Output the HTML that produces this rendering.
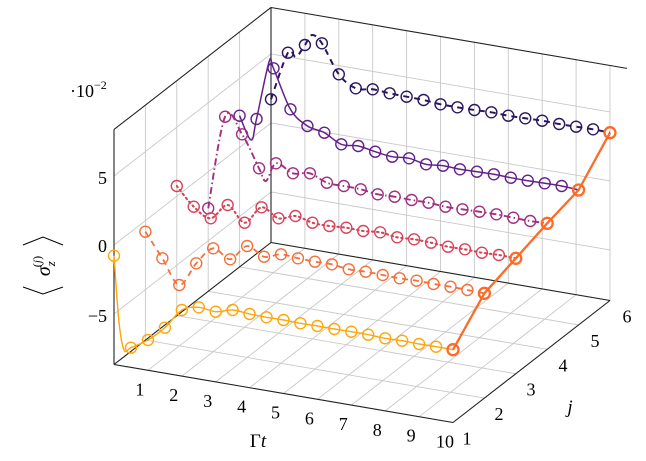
<!DOCTYPE html>
<html><head><meta charset="utf-8">
<style>
html,body{margin:0;padding:0;background:#fff;}
svg{display:block;}
text{font-family:"Liberation Serif",serif;fill:#000;}
</style></head>
<body>
<svg id="s" width="646" height="461" viewBox="0 0 646 461" xmlns="http://www.w3.org/2000/svg">
<g id="grid"></g>
<g id="edges"></g>
<g id="series"></g>
<g id="labels">
<text x="107" y="184" font-size="18" text-anchor="end">5</text>
<text x="107" y="252" font-size="18" text-anchor="end">0</text>
<text x="107" y="322" font-size="18" text-anchor="end">−5</text>
<text x="70" y="97" font-size="18">·10<tspan font-size="12" dy="-8">−2</tspan></text>
<polyline points="23,245 43,237 63,245" fill="none" stroke="#000" stroke-width="1"/>
<polyline points="23,287 43,294 63,287" fill="none" stroke="#000" stroke-width="1"/>
<g transform="translate(50,266) rotate(-90)">
<text x="0" y="0" font-size="20" text-anchor="middle"><tspan font-style="italic">σ</tspan><tspan font-size="13" font-style="italic" dy="5">z</tspan><tspan font-size="12" dy="-14" dx="-6">(<tspan font-style="italic">j</tspan>)</tspan></text>
</g>
<text x="258" y="447" font-size="19" text-anchor="middle">Γ<tspan font-style="italic">t</tspan></text>
<text x="570" y="413" font-size="19" font-style="italic" text-anchor="middle">j</text>
</g>
</svg>
<script>
var NS="http://www.w3.org/2000/svg";
function P(t,j,z){return [114+33.9*t+31.4*(j-1), 364.5+5.8*t-24.4*(j-1)-13.8*(z+8.66)];}
var ZMIN=-8.66,ZMAX=8.37;
function line(g,a,b,col,w){var l=document.createElementNS(NS,"line");l.setAttribute("x1",a[0]);l.setAttribute("y1",a[1]);l.setAttribute("x2",b[0]);l.setAttribute("y2",b[1]);l.setAttribute("stroke",col);l.setAttribute("stroke-width",w);g.appendChild(l);}
var G=document.getElementById("grid"),E=document.getElementById("edges"),S=document.getElementById("series"),L=document.getElementById("labels");
var gc="#c8c8c8";
var t,j,z;
for(t=0;t<=10;t++){line(G,P(t,6,ZMIN),P(t,6,ZMAX),gc,0.9);line(G,P(t,1,ZMIN),P(t,6,ZMIN),gc,0.9);}
for(j=1;j<=6;j++){line(G,P(0,j,ZMIN),P(0,j,ZMAX),gc,0.9);line(G,P(0,j,ZMIN),P(10,j,ZMIN),gc,0.9);}
[-5,0,5].forEach(function(z){line(G,P(0,6,z),P(10,6,z),gc,0.9);line(G,P(0,1,z),P(0,6,z),gc,0.9);});
var k="#222";
line(E,P(0,1,ZMIN),P(0,1,ZMAX),k,1.1);
line(E,P(0,1,ZMAX),P(0,6,ZMAX),k,1.1);
line(E,P(0,6,ZMAX),P(10.5,6,ZMAX),k,1.1);
line(E,P(0,6,ZMIN),P(0,6,ZMAX),k,1.1);
line(E,P(0,1,ZMIN),P(10,1,ZMIN),k,1.1);
line(E,P(10,1,ZMIN),P(10,6,ZMIN),k,1.1);
line(E,P(0,1,ZMIN),P(0,6,ZMIN),k,1.1);
line(E,P(0,6,ZMIN),P(10,6,ZMIN),k,1.1);
for(t=1;t<=10;t++){var p=P(t,1,ZMIN);var tx=document.createElementNS(NS,"text");tx.setAttribute("x",p[0]-8);tx.setAttribute("y",p[1]+25);tx.setAttribute("font-size","18");tx.setAttribute("text-anchor","middle");tx.textContent=t;L.appendChild(tx);}
for(j=1;j<=6;j++){var p=P(10,j,ZMIN);var tx=document.createElementNS(NS,"text");tx.setAttribute("x",p[0]+14+(j-1)*0.6);tx.setAttribute("y",p[1]+22);tx.setAttribute("font-size","18");tx.setAttribute("text-anchor","middle");tx.textContent=j;L.appendChild(tx);}
var Y={
1:[255.7,347.7,340,327.7,310,307.3,311.7,310,314,317.3,320,323.3,326,329,331.7,334.7,338.3,340.7,344,346.7,349.7],
2:[231.7,258.3,285,263.3,248.3,259.3,246,256.7,254.3,258.3,261.7,264.3,269.3,271.7,275,278.3,280.7,284,286.7,290,293.3],
3:[186,206.7,218.3,205,222.7,207.3,218.3,216,222.7,226,227.7,231,232.3,237.3,239.3,242.7,246.7,249.3,252.7,255,258.3],
4:[208.3,116.7,134.3,168.3,163.3,173.3,173.3,182.7,186,189.3,194.3,196.7,200,202.7,206.7,209.3,211.7,214.3,217.7,221,223.3],
5:[115.7,119,68.3,109.3,126,132.7,144.3,146,151.7,156.7,158.3,164.3,165.7,169.3,171.7,174.3,177.7,180.7,183.3,186,190],
6:[99.3,52.7,45,43.3,74.3,88.3,89.3,93.3,96.7,100,104.3,107.3,110,112.3,115.7,118.3,120.7,124,126.7,129.3,132.7]};
var extra={1:[[0,[119,322]],[0,[124,350]]],5:[[0,[251,140]],[1,[269,62]]],6:[[1,[296,57]],[2,[312,35]]],4:[[3,[266,181]]]};
var style={
1:{c:"#ffa60a",w:1.4,d:""},
2:{c:"#f3703a",w:1.8,d:"6,5"},
3:{c:"#d7445a",w:2.1,d:"1.5,3.5"},
4:{c:"#a02f80",w:1.9,d:"7,3,1.5,3"},
5:{c:"#63208a",w:1.5,d:""},
6:{c:"#2a1660",w:2,d:"6,5"}};
function cr(pts){var d="M"+pts[0][0]+","+pts[0][1];for(var i=0;i<pts.length-1;i++){var p0=pts[i-1]||pts[i],p1=pts[i],p2=pts[i+1],p3=pts[i+2]||p2;var c1=[p1[0]+(p2[0]-p0[0])/6,p1[1]+(p2[1]-p0[1])/6],c2=[p2[0]-(p3[0]-p1[0])/6,p2[1]-(p3[1]-p1[1])/6];d+=" C"+c1[0].toFixed(1)+","+c1[1].toFixed(1)+" "+c2[0].toFixed(1)+","+c2[1].toFixed(1)+" "+p2[0].toFixed(1)+","+p2[1].toFixed(1);}return d;}
var ends=[];
for(j=6;j>=1;j--){
 var pts=[],mk=[];
 for(var i=0;i<21;i++){var x=114+33.9*(i*0.5)+31.4*(j-1);var p=[x,Y[j][i]];mk.push(p);pts.push(p);
  (extra[j]||[]).forEach(function(e){if(e[0]===i)pts.push(e[1]);});}
 ends.unshift(mk[20]);
 var st=style[j];
 var pa=document.createElementNS(NS,"path");pa.setAttribute("d",cr(pts));pa.setAttribute("fill","none");pa.setAttribute("stroke",st.c);pa.setAttribute("stroke-width",st.w);if(st.d)pa.setAttribute("stroke-dasharray",st.d);pa.setAttribute("stroke-linecap",j==3?"round":"butt");S.appendChild(pa);
 for(var i=0;i<20;i++){var c=document.createElementNS(NS,"circle");c.setAttribute("cx",mk[i][0]);c.setAttribute("cy",mk[i][1]);c.setAttribute("r",5.5);c.setAttribute("fill","none");c.setAttribute("stroke",st.c);c.setAttribute("stroke-width",1.4);S.appendChild(c);}
}
var oc="#ff6a26";
var d="M"+ends.map(function(p){return p[0]+","+p[1];}).join(" L");
var pa=document.createElementNS(NS,"path");pa.setAttribute("d",d);pa.setAttribute("fill","none");pa.setAttribute("stroke",oc);pa.setAttribute("stroke-width",2.3);S.appendChild(pa);
ends.forEach(function(p){var c=document.createElementNS(NS,"circle");c.setAttribute("cx",p[0]);c.setAttribute("cy",p[1]);c.setAttribute("r",5.5);c.setAttribute("fill","none");c.setAttribute("stroke",oc);c.setAttribute("stroke-width",2.3);S.appendChild(c);});
</script>
</body></html>
